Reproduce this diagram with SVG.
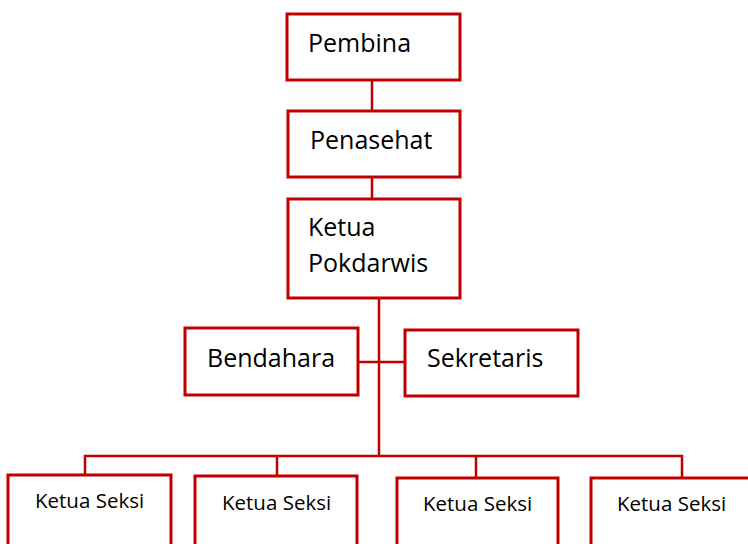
<svg xmlns="http://www.w3.org/2000/svg" width="748" height="544" viewBox="0 0 748 544">
<style>
.box{fill:#fff;stroke:#C00000;stroke-width:3}
.ln{fill:none;stroke:#C00000;stroke-width:2.5}
.t{font-family:"Open Sans","Liberation Sans",sans-serif;font-size:25px;fill:#000}
.s{font-family:"Open Sans","Liberation Sans",sans-serif;font-size:20.5px;fill:#000}
</style>
<rect width="748" height="544" fill="#fff"/>
<g id="connectors">
<line class="ln" x1="372" y1="80" x2="372" y2="111"/>
<line class="ln" x1="372" y1="177" x2="372" y2="199"/>
<line class="ln" x1="379" y1="298" x2="379" y2="456"/>
<line class="ln" x1="358" y1="362" x2="405" y2="362"/>
<polyline class="ln" points="85,475 85,456 682,456 682,478"/>
<line class="ln" x1="277" y1="456" x2="277" y2="476"/>
<line class="ln" x1="476" y1="456" x2="476" y2="478"/>
</g>
<g id="pembina"><rect class="box" x="287" y="14" width="173" height="66"/><text class="t" x="308" y="52">Pembina</text></g>
<g id="penasehat"><rect class="box" x="288" y="111" width="172" height="66"/><text class="t" x="310" y="149">Penasehat</text></g>
<g id="ketua"><rect class="box" x="288" y="199" width="172" height="99"/><text class="t" x="308" y="236">Ketua</text><text class="t" x="308" y="272">Pokdarwis</text></g>
<g id="bendahara"><rect class="box" x="185" y="328" width="173" height="67"/><text class="t" x="207" y="367">Bendahara</text></g>
<g id="sekretaris"><rect class="box" x="405" y="330" width="173" height="66"/><text class="t" x="427" y="367">Sekretaris</text></g>
<g id="seksi1"><rect class="box" x="8" y="475" width="163" height="80"/><text class="s" x="35" y="508">Ketua Seksi</text></g>
<g id="seksi2"><rect class="box" x="195" y="476" width="162" height="80"/><text class="s" x="222" y="510">Ketua Seksi</text></g>
<g id="seksi3"><rect class="box" x="397" y="478" width="161" height="80"/><text class="s" x="423" y="511">Ketua Seksi</text></g>
<g id="seksi4"><rect class="box" x="591" y="478" width="170" height="80"/><text class="s" x="617" y="511">Ketua Seksi</text></g>
</svg>
